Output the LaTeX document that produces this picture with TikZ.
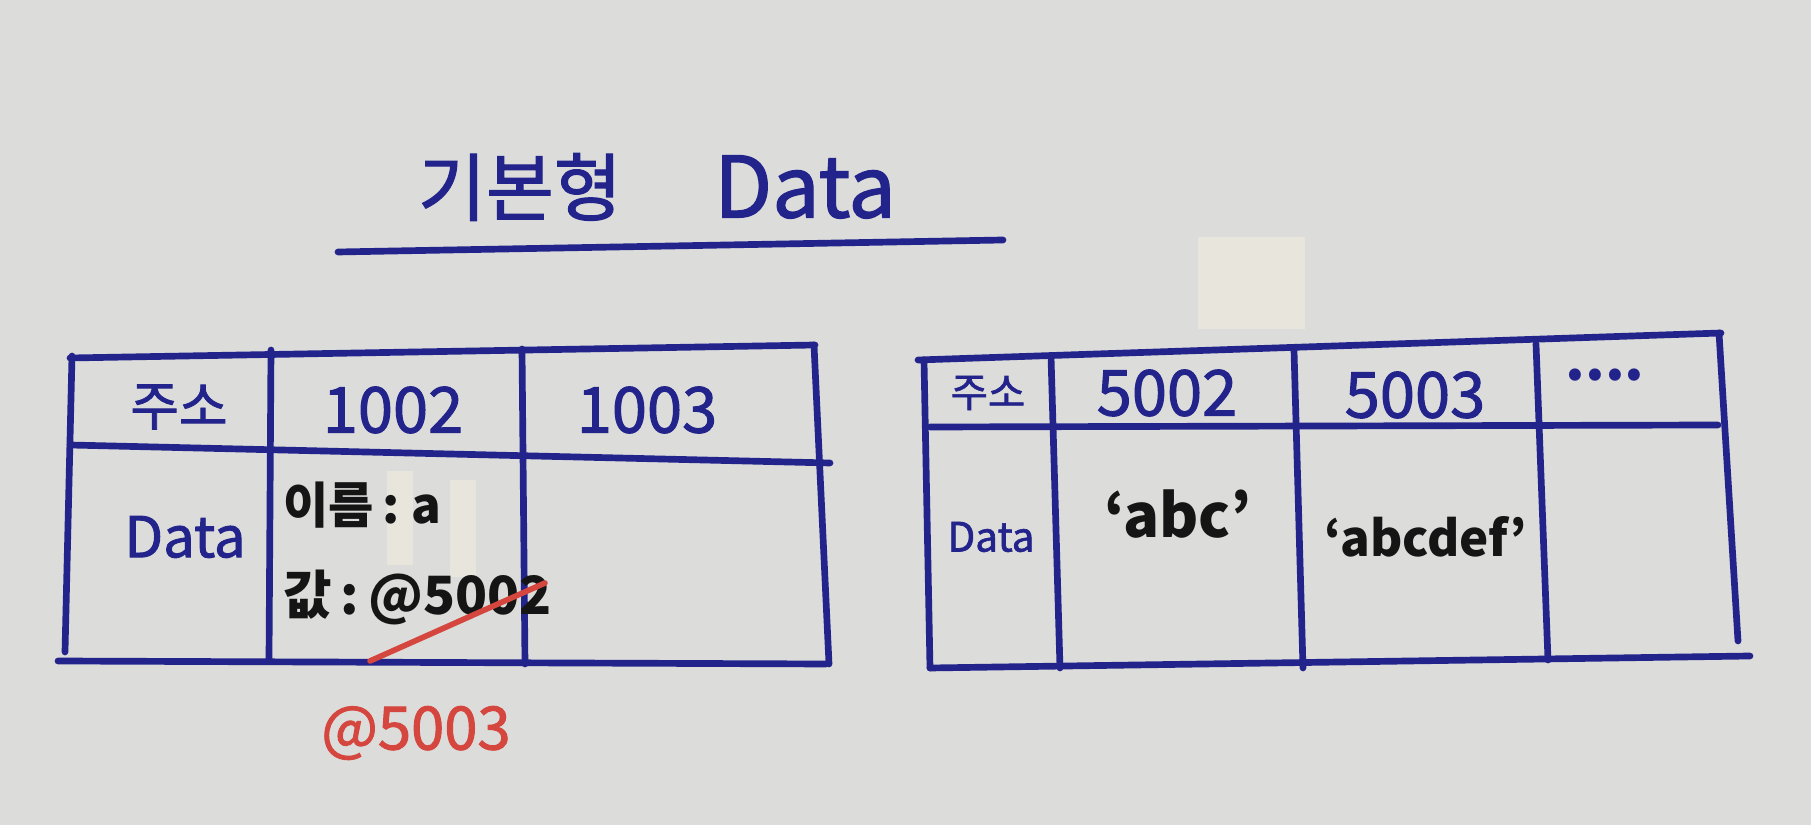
\documentclass[tikz,border=0pt]{standalone}
\usepackage{fontspec}
\setmainfont{Noto Sans CJK KR}
\newfontfamily\penfont{Noto Sans CJK KR}[FakeBold=1.6]
\usetikzlibrary{positioning}
\definecolor{paper}{HTML}{DCDCDA}
\definecolor{ink}{HTML}{23238C}
\definecolor{marker}{HTML}{151515}
\definecolor{redpen}{HTML}{D4463E}
\definecolor{tape}{HTML}{E8E6DC}

\begin{document}
\begin{tikzpicture}[x=0.01cm,y=-0.01cm,
    grid/.style={draw=ink,line width=1.9pt,line cap=round},
    hd/.style={text=ink,inner sep=0pt,font=\penfont\fontsize{18}{20}\selectfont},
    hdsmall/.style={hd,font=\penfont\fontsize{11.5}{13}\selectfont},
    val/.style={text=marker,inner sep=0pt,font=\fontsize{15}{18}\selectfont\bfseries}]
  \fill[paper] (0,0) rectangle (1811,825);
  \useasboundingbox (0,0) rectangle (1811,825);
  \fill[tape] (1198,237) rectangle (1305,329);
  \fill[tape] (387,471) rectangle (413,565);
  \fill[tape] (450,480) rectangle (476,577);

  \node[hd,font=\penfont\fontsize{21}{24}\selectfont] (kor) at (520,187) {기본형};
  \node[hd,font=\penfont\fontsize{24}{26}\selectfont] (eng) at (805,187) {Data};
  \draw[grid] (338,252) -- (1003,240);

  % left table
  \draw[grid] (70,358) -- (815,345);
  \draw[grid] (70,445) -- (830,463);
  \draw[grid] (58,661) -- (826,664);
  \draw[grid] (72,356) -- (65,652);
  \draw[grid] (271,350) -- (269,660);
  \draw[grid] (522,349) -- (525,664);
  \draw[grid] (814,345) -- (829,664);
  \node[hd,font=\penfont\fontsize{15}{18}\selectfont] (addrA) at (179,407) {주소};
  \node[hd] (c1002) at (393,410) {1002};
  \node[hd] (c1003) at (647,410) {1003};
  \node[hd,font=\penfont\fontsize{16}{18}\selectfont] (dataA) at (185,537) {Data};
  \node[val,anchor=west,font=\fontsize{14}{17}\selectfont\bfseries] (name) at (283,505) {이름\,:\hspace{0.12cm}a};
  \node[val,anchor=west] (value) at (283,597) {값\,:\,@5002};
  \draw[redpen,line width=1.6pt,line cap=round] (370,661) -- (545,583);
  \node[val,text=redpen,font=\penfont\fontsize{17}{20}\selectfont] (newval) at (416,733) {@5003};

  % right table
  \draw[grid] (918,360) -- (1721,333);
  \draw[grid] (930,427) -- (1718,425);
  \draw[grid] (930,668) -- (1750,656);
  \draw[grid] (924,360) -- (930,668);
  \draw[grid] (1051,356) -- (1060,668);
  \draw[grid] (1294,350) -- (1303,668);
  \draw[grid] (1536,344) -- (1548,660);
  \draw[grid] (1719,333) -- (1738,641);
  \node[hdsmall] (addrB) at (988,393) {주소};
  \node[hd] (c5002) at (1167,393) {5002};
  \node[hd] (c5003) at (1415,395) {5003};
  \node[hd,font=\fontsize{16}{18}\selectfont\bfseries] (more) at (1605,375) {....};
  \node[hdsmall] (dataB) at (991,537) {Data};
  \node[val,font=\fontsize{17}{20}\selectfont\bfseries] (abc) at (1178,514) {`abc'};
  \node[val,font=\fontsize{14}{17}\selectfont\bfseries] (abcdef) at (1426,537) {`abcdef'};
\end{tikzpicture}
\end{document}
